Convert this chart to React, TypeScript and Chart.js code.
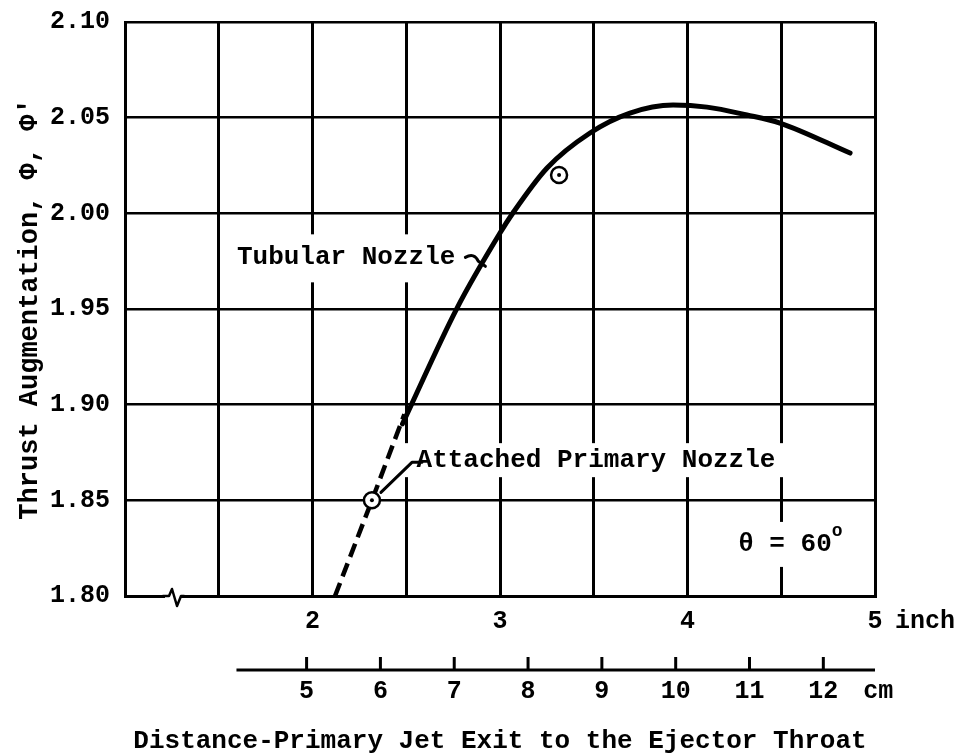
import React, { useEffect, useRef } from 'react';
import { Chart, registerables } from 'chart.js';

Chart.register(...registerables);

const FONT = "'Liberation Mono', 'DejaVu Sans Mono', 'Courier New', monospace";

// Axis definitions (inch scale, cm companion scale)
const X_MIN = 1;
const X_MAX = 5;
const X_GRID = [1, 1.5, 2, 2.5, 3, 3.5, 4, 4.5, 5];
const X_LABELED = [2, 3, 4, 5];
const Y_TICKS = [1.8, 1.85, 1.9, 1.95, 2.0, 2.05, 2.1];
const CM_TICKS = [5, 6, 7, 8, 9, 10, 11, 12];
const CM_START = 4.05;
const CM_END = 12.7;
const CM_PER_INCH = 2.54;

// Tubular nozzle (solid curve)
const TUBULAR_X = [2.48, 2.771, 3.0, 3.069, 3.251, 3.48, 3.693, 3.923, 4.104, 4.317, 4.493, 4.867];
const TUBULAR_Y = [1.89, 1.9505, 1.9897, 2.0002, 2.0237, 2.042, 2.0524, 2.0566, 2.0555, 2.0514, 2.0472, 2.0315];

// Attached primary nozzle (dashed curve)
const ATTACHED_X = [2.12, 2.317, 2.49];
const ATTACHED_Y = [1.8, 1.85, 1.895];

// Measured points (circled)
const POINTS_X = [2.317, 3.315];
const POINTS_Y = [1.85, 2.02];

const X_TITLE = 'Distance-Primary Jet Exit to the Ejector Throat';
const Y_TITLE = "Thrust Augmentation, \u03A6, \u03A6'";

const toXY = (xs: number[], ys: number[]) => xs.map((x, i) => ({ x, y: ys[i] }));

const overlay = {
  id: 'overlay',
  afterDatasetsDraw(chart: any) {
    const { ctx, chartArea } = chart;
    const xs = chart.scales.x;
    const ys = chart.scales.y;
    const px = (v: number) => xs.getPixelForValue(v);
    const py = (v: number) => ys.getPixelForValue(v);
    ctx.save();
    ctx.fillStyle = '#000';
    ctx.strokeStyle = '#000';
    ctx.lineCap = 'round';
    ctx.lineJoin = 'round';
    ctx.textBaseline = 'middle';
    ctx.textAlign = 'left';
    ctx.font = `bold 26px ${FONT}`;

    const boxedText = (text: string, x: number, y: number, padL: number, padR: number, up: number, down: number) => {
      const w = ctx.measureText(text).width;
      ctx.fillStyle = '#fff';
      ctx.fillRect(x - padL, y - up, w + padL + padR, up + down);
      ctx.fillStyle = '#000';
      ctx.fillText(text, x, y);
      return w;
    };

    // Tubular Nozzle label + leader
    const tx = px(1.597);
    const ty = py(1.977);
    const tw = boxedText('Tubular Nozzle', tx, ty, 5, 6, 23, 25);
    ctx.lineWidth = 3;
    ctx.beginPath();
    const lx = tx + tw + 10;
    ctx.moveTo(lx, ty);
    ctx.quadraticCurveTo(lx + 9, ty - 5, lx + 13, ty + 4);
    ctx.lineTo(lx + 20, ty + 9);
    ctx.stroke();

    // Attached Primary Nozzle label + leader
    const ax = px(2.555);
    const ay = py(1.871);
    boxedText('Attached Primary Nozzle', ax, ay, 16, 8, 17, 17);
    const cx = px(POINTS_X[0]);
    const cy = py(POINTS_Y[0]);
    ctx.lineWidth = 3;
    ctx.beginPath();
    ctx.moveTo(cx + 9, cy - 8);
    ctx.lineTo(cx + 40, cy - 38);
    ctx.lineTo(cx + 50, cy - 38);
    ctx.stroke();

    // theta label
    const thx = px(4.27);
    const thy = py(1.8267);
    const thw = boxedText('\u03B8 = 60', thx, thy, 6, 22, 23, 22);
    ctx.font = `bold 18px ${FONT}`;
    ctx.fillText('o', thx + thw, thy - 13);

    // axis break on bottom axis
    const bx = px(1.256);
    const by = chartArea.bottom;
    ctx.fillStyle = '#fff';
    ctx.fillRect(bx - 8, by - 2, 16, 4);
    ctx.fillStyle = '#000';
    ctx.lineWidth = 2.5;
    ctx.beginPath();
    ctx.moveTo(bx - 10, by);
    ctx.lineTo(bx - 4, by);
    ctx.lineTo(bx - 1, by - 7);
    ctx.lineTo(bx + 4, by + 10);
    ctx.lineTo(bx + 8, by);
    ctx.lineTo(bx + 11, by);
    ctx.stroke();

    // "inch" unit next to last tick label
    ctx.font = `bold 25px ${FONT}`;
    ctx.textAlign = 'left';
    ctx.fillText('inch', px(X_MAX) + 20, chartArea.bottom + 26);

    // cm companion axis
    const cmY = chartArea.bottom + 74;
    const cmPx = (cm: number) => px(cm / CM_PER_INCH);
    ctx.lineWidth = 3;
    ctx.lineCap = 'butt';
    ctx.beginPath();
    ctx.moveTo(cmPx(CM_START), cmY);
    ctx.lineTo(cmPx(CM_END), cmY);
    ctx.stroke();
    ctx.textAlign = 'center';
    CM_TICKS.forEach((c) => {
      const x = cmPx(c);
      ctx.beginPath();
      ctx.moveTo(x, cmY);
      ctx.lineTo(x, cmY - 13);
      ctx.stroke();
      ctx.fillText(String(c), x, cmY + 22);
    });
    ctx.textAlign = 'left';
    ctx.fillText('cm', cmPx(CM_TICKS[CM_TICKS.length - 1]) + 40, cmY + 22);

    ctx.restore();
  },
};

export default function App() {
  const ref = useRef<HTMLCanvasElement>(null);
  useEffect(() => {
    const canvas = ref.current!;
    const tickFont = { family: FONT, size: 25, weight: 'bold' as const };
    const chart = new Chart(canvas, {
      type: 'line',
      data: {
        datasets: [
          {
            label: 'dots',
            data: toXY(POINTS_X, POINTS_Y),
            showLine: false,
            pointRadius: 2,
            pointBackgroundColor: '#000',
            pointBorderWidth: 0,
            borderColor: '#000',
            order: 0,
          },
          {
            label: 'Data points',
            data: toXY(POINTS_X, POINTS_Y),
            showLine: false,
            pointRadius: 8,
            pointBorderWidth: 2.5,
            pointBorderColor: '#000',
            pointBackgroundColor: '#fff',
            borderColor: '#000',
            order: 1,
          },
          {
            label: 'Tubular Nozzle',
            data: toXY(TUBULAR_X, TUBULAR_Y),
            borderColor: '#000',
            borderWidth: 5,
            pointRadius: 0,
            cubicInterpolationMode: 'monotone',
            borderCapStyle: 'round',
            order: 2,
          },
          {
            label: 'Attached Primary Nozzle',
            data: toXY(ATTACHED_X, ATTACHED_Y),
            borderColor: '#000',
            borderWidth: 4.5,
            borderDash: [14, 7],
            pointRadius: 0,
            tension: 0,
            order: 3,
          },
        ],
      },
      options: {
        animation: false,
        responsive: false,
        devicePixelRatio: 1,
        layout: { padding: { left: 0, right: 87, top: 22, bottom: 0 } },
        plugins: { legend: { display: false }, tooltip: { enabled: false } },
        scales: {
          x: {
            type: 'linear',
            min: X_MIN,
            max: X_MAX,
            afterBuildTicks: (s: any) => {
              s.ticks = X_GRID.map((v) => ({ value: v }));
            },
            afterFit: (s: any) => {
              s.height = 158;
              s.paddingLeft = 0;
              s.paddingRight = 0;
            },
            grid: { color: '#000', lineWidth: 3, drawTicks: false },
            border: { color: '#000', width: 3 },
            ticks: {
              autoSkip: false,
              maxRotation: 0,
              padding: 11,
              color: '#000',
              font: tickFont,
              callback: (v: any) => (X_LABELED.includes(Number(v)) ? String(v) : ''),
            },
            title: {
              display: true,
              text: X_TITLE,
              color: '#000',
              font: { family: FONT, size: 26, weight: 'bold', lineHeight: 1.0 },
              padding: { top: 0, bottom: 0 },
            },
          },
          y: {
            type: 'linear',
            min: 1.8,
            max: 2.1,
            afterBuildTicks: (s: any) => {
              s.ticks = Y_TICKS.map((v) => ({ value: v }));
            },
            afterFit: (s: any) => {
              s.width = 125;
              s.paddingTop = 0;
              s.paddingBottom = 0;
            },
            grid: { color: '#000', lineWidth: 2.5, drawTicks: false },
            border: { color: '#000', width: 3 },
            ticks: {
              padding: 15,
              color: '#000',
              font: tickFont,
              callback: (v: any) => Number(v).toFixed(2),
            },
            title: {
              display: true,
              text: Y_TITLE,
              color: '#000',
              font: { family: FONT, size: 27, weight: 'bold' },
              padding: { top: 14, bottom: 0 },
            },
          },
        },
      },
      plugins: [overlay],
    } as any);
    return () => chart.destroy();
  }, []);
  return (
    <div style={{ position: 'absolute', left: 0, top: 0, width: 962, height: 754, background: '#fff' }}>
      <canvas ref={ref} width={962} height={754} style={{ display: 'block', width: 962, height: 754 }} />
    </div>
  );
}
